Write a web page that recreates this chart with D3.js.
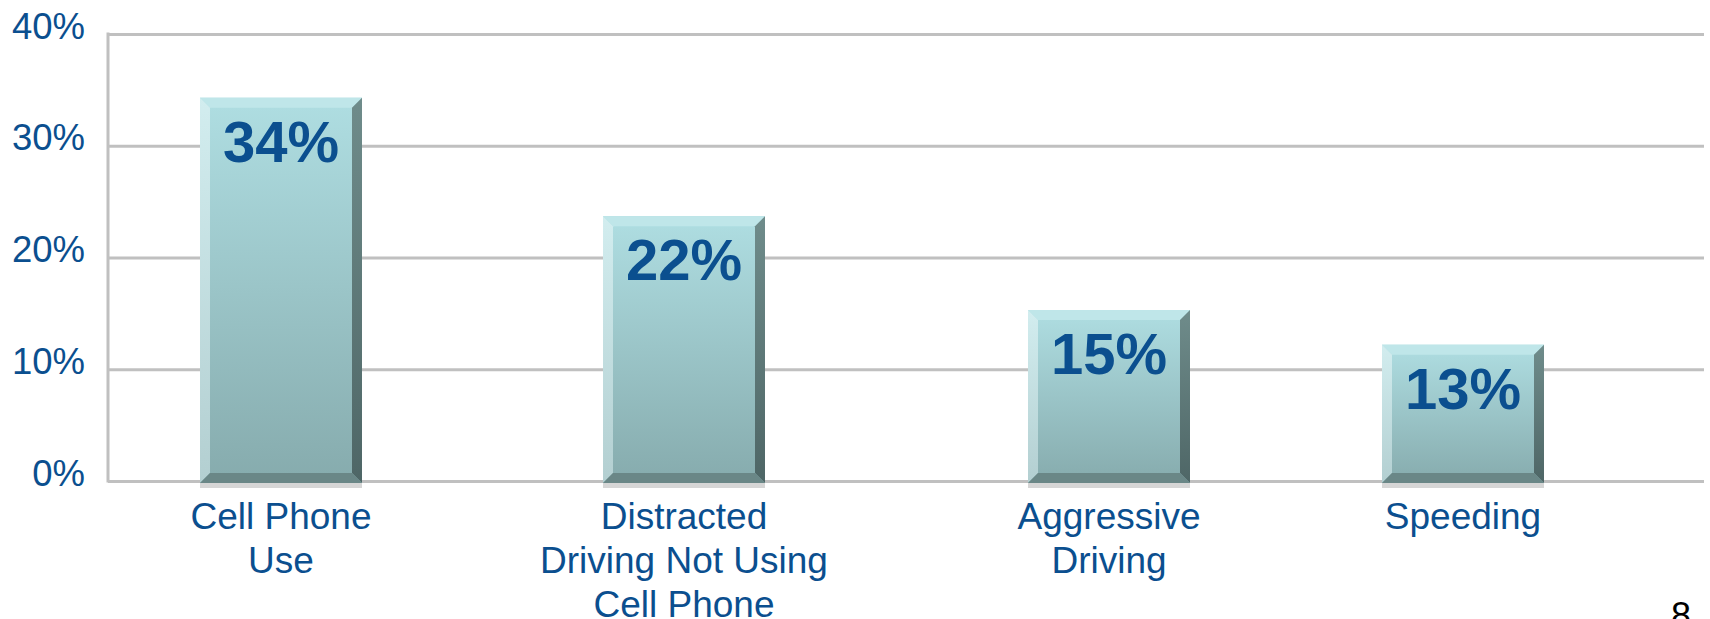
<!DOCTYPE html>
<html>
<head>
<meta charset="utf-8">
<script src="https://cdn.jsdelivr.net/npm/d3@7"></script>
<style>
  body { margin: 0; background: #ffffff; }
  svg { display: block; }
</style>
</head>
<body>
<svg id="chart" width="1710" height="619"></svg>
<script>
const categories = [
  ['Cell Phone', 'Use'],
  ['Distracted', 'Driving Not Using', 'Cell Phone'],
  ['Aggressive', 'Driving'],
  ['Speeding']
]
const values = [34.3, 23.7, 15.3, 12.2] // bar heights as drawn
const valueLabels = ['34%', '22%', '15%', '13%']
const yTicks = [0, 10, 20, 30, 40]

const svg = d3.select('#chart')
const blue = '#0b4f8f'
const grid = '#c0c0c0'

const plotLeft = 108
const plotRight = 1704
const plotTop = 34
const plotBottom = 481
const barWidth = 162
const bevel = 10

const y = d3.scaleLinear().domain([0, 40]).range([plotBottom, plotTop])
// bars are not evenly spaced in the original slide
const x = d3.scaleOrdinal()
  .domain(d3.range(categories.length))
  .range([281, 684, 1109, 1463])

// gradients for the bevelled bars
const defs = svg.append('defs')
const grad = (id, c0, c1) => {
  const g = defs.append('linearGradient')
    .attr('id', id)
    .attr('x1', 0).attr('y1', 0).attr('x2', 0).attr('y2', 1)
  g.append('stop').attr('offset', '0%').attr('stop-color', c0)
  g.append('stop').attr('offset', '100%').attr('stop-color', c1)
}
grad('face', '#afdee2', '#86abad')
grad('bevLeft', '#d2edef', '#b3cfd1')
grad('bevRight', '#6f8c8b', '#4e6666')

// y axis with gridlines
const axis = svg.append('g')
  .attr('transform', `translate(${plotLeft},0)`)
  .call(d3.axisLeft(y)
    .tickValues(yTicks)
    .tickFormat(d => d + '%')
    .tickSize(-(plotRight - plotLeft))
    .tickPadding(23))

axis.select('.domain').remove()
axis.selectAll('.tick line')
  .attr('stroke', grid)
  .attr('stroke-width', 3)
axis.selectAll('.tick text')
  .attr('fill', blue)
  .attr('font-family', '"Liberation Sans", Arial, sans-serif')
  .attr('font-size', 36.5)
  .attr('dy', 4)

svg.append('line')
  .attr('x1', plotLeft).attr('x2', plotLeft)
  .attr('y1', plotTop - 1.5).attr('y2', plotBottom + 1.5)
  .attr('stroke', grid)
  .attr('stroke-width', 3)

// bars
const bars = svg.selectAll('g.bar')
  .data(values)
  .join('g')
  .attr('class', 'bar')

const pts = arr => arr.map(p => p.join(',')).join(' ')

bars.each(function (v, i) {
  const g = d3.select(this)
  const x0 = x(i) - barWidth / 2
  const x1 = x(i) + barWidth / 2
  const yt = y(v)
  const yb = y(0) + 2
  const b = bevel

  g.append('rect')
    .attr('x', x0).attr('y', yb)
    .attr('width', barWidth).attr('height', 5)
    .attr('fill', '#d6d6d6')

  g.append('rect')
    .attr('x', x0).attr('y', yt)
    .attr('width', barWidth).attr('height', yb - yt)
    .attr('fill', 'url(#face)')

  g.append('polygon')
    .attr('points', pts([[x0, yt], [x1, yt], [x1 - b, yt + b], [x0 + b, yt + b]]))
    .attr('fill', '#bfe6e9')
  g.append('polygon')
    .attr('points', pts([[x0, yt], [x0 + b, yt + b], [x0 + b, yb - b], [x0, yb]]))
    .attr('fill', 'url(#bevLeft)')
  g.append('polygon')
    .attr('points', pts([[x1, yt], [x1 - b, yt + b], [x1 - b, yb - b], [x1, yb]]))
    .attr('fill', 'url(#bevRight)')
  g.append('polygon')
    .attr('points', pts([[x0, yb], [x1, yb], [x1 - b, yb - b], [x0 + b, yb - b]]))
    .attr('fill', '#6a8787')

  g.append('text')
    .attr('x', x(i))
    .attr('y', yt + 64)
    .attr('text-anchor', 'middle')
    .attr('fill', blue)
    .attr('font-family', '"Liberation Sans", Arial, sans-serif')
    .attr('font-weight', 'bold')
    .attr('font-size', 58)
    .text(valueLabels[i])
})

// category labels
svg.selectAll('text.cat')
  .data(categories)
  .join('text')
  .attr('class', 'cat')
  .attr('text-anchor', 'middle')
  .attr('fill', blue)
  .attr('font-family', '"Liberation Sans", Arial, sans-serif')
  .attr('font-size', 37)
  .each(function (lines, i) {
    d3.select(this).selectAll('tspan')
      .data(lines)
      .join('tspan')
      .attr('x', x(i))
      .attr('y', (d, j) => 529 + j * 44)
      .text(d => d)
  })

// slide number
svg.append('text')
  .attr('x', 1681)
  .attr('y', 628)
  .attr('text-anchor', 'middle')
  .attr('fill', '#000000')
  .attr('font-family', '"Liberation Sans", Arial, sans-serif')
  .attr('font-size', 36)
  .text('8')
</script>
</body>
</html>
